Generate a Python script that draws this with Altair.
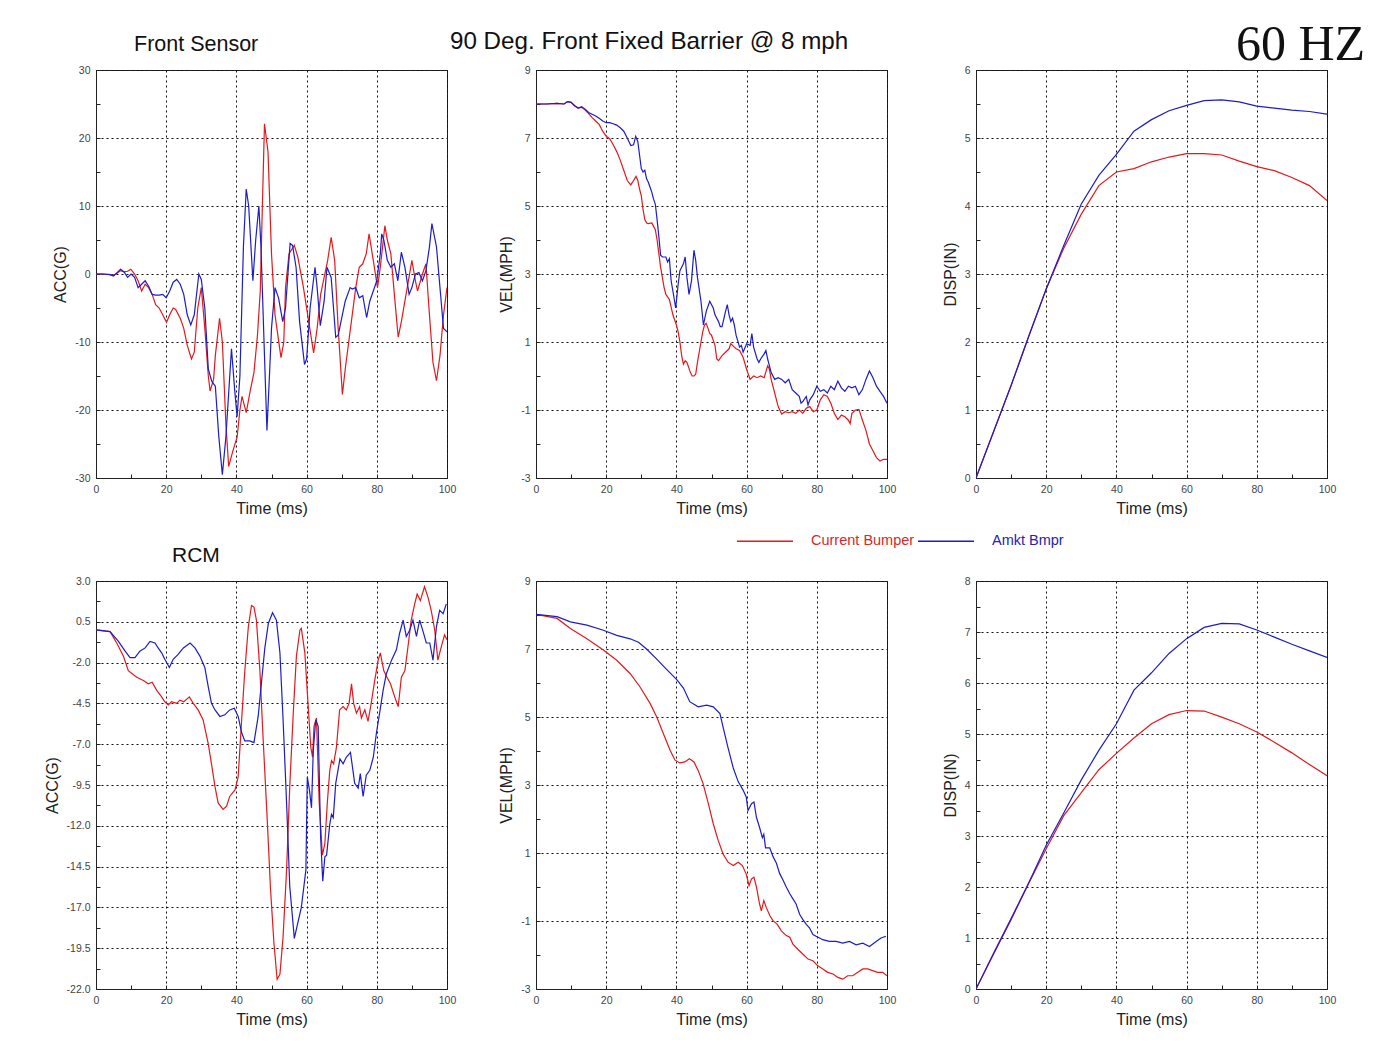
import altair as alt
import pandas as pd

FONT = "Liberation Sans"
SERIF = "Liberation Serif"
SERIES = ["Current Bumper", "Amkt Bmpr"]
LINE_COLORS = ["#e3191c", "#1d1dc8"]
W, H = 351, 408

X_LABELS = [0, 20, 40, 60, 80, 100]
X_MINOR = [0, 10, 20, 30, 40, 50, 60, 70, 80, 90, 100]

# ---------------- Front Sensor: ACC(G) ----------------
FS_ACC_T_RED = [0, 2, 4, 5, 6, 7, 8, 9, 9.9, 11, 12, 13, 14, 15, 16, 17, 18, 19, 20.1, 21, 22, 22.7, 24, 25, 26,
                27.2, 28, 29, 30, 31, 32, 32.5, 33.5, 34, 35.2, 36, 37, 37.8, 39, 40.2, 41, 41.6, 42.8, 44, 45, 46,
                46.8, 47.4, 48, 49, 50, 51, 52.7, 53.5, 54, 55, 56.5, 57.5, 59.1, 60, 62, 63, 64, 66, 67, 68, 69,
                70.2, 71, 72, 73, 74, 75, 76, 77, 77.8, 79, 80.2, 81, 82.3, 83, 84, 85, 86.1, 87, 88, 89, 90, 91,
                91.6, 93, 94, 95, 96, 97, 98, 99, 100]
FS_ACC_RED = [0, 0, -0.1, -0.2, 0.1, 0.5, 0.3, 0.4, 0.7, 0, -1, -2.5, -1.5, -2, -3, -4.5, -5, -6, -7.1, -6, -5, -5.2,
              -6.5, -8, -10.5, -12.5, -11.5, -5, -2, -8, -15, -17.2, -15.5, -12, -6.5, -10, -22, -28.3, -26, -24,
              -20, -18, -20.4, -17, -14.5, -9, -2.5, 10, 22.1, 18, 3, -6, -12.3, -10, -2, 3, 4.2, 2.5, -2, -5,
              -11.6, -8, -3, 2, 5.4, 2, -8, -17.7, -14, -10, -6, -2, 1, 1.5, 3, 5.9, 2, -2, 1, 7.1, 5, 3, -3,
              -9.3, -7, -4, -1, 2, -1, -2.5, 0, 1.5, -6, -13, -15.7, -12, -6, -2]
FS_ACC_T_BLUE = [0, 2, 4, 5, 6, 7, 8, 9, 10, 11, 12, 13, 14, 15, 16, 17, 18, 19, 20, 21, 22, 23, 24, 25, 26, 27,
                 28, 29.3, 30, 31, 32, 33, 34, 35, 36, 37, 38.6, 39.5, 40.2, 41, 42, 42.8, 43.5, 44.7, 45.5, 46.4,
                 47, 48, 48.7, 49.5, 50, 51, 52, 53.2, 54, 55.3, 56, 57, 58, 59.4, 60, 61, 62.4, 63, 63.9, 65,
                 65.8, 67, 68.3, 69, 70, 71, 72.4, 73, 74, 75, 76, 77.1, 78, 79, 80, 81, 81.4, 82, 83, 84, 85, 86,
                 87, 88, 89.2, 90, 91, 92, 93, 94, 95, 95.7, 97, 98, 99, 100]
FS_ACC_BLUE = [0, 0, -0.1, -0.3, 0.2, 0.7, 0.3, -0.5, 0, -0.5, -2, -1.5, -1, -1.8, -3, -3.1, -3.1, -3, -3.5, -2.5,
               -1.2, -0.8, -1.5, -3, -6, -7.5, -6, 0, -0.8, -5, -14, -15.8, -16.5, -24, -29.5, -24, -11, -17, -21,
               -15, 4, 12.5, 10, -1, 5, 10, 4, -12, -23, -14, -8, -2, -3.5, -7, -5, 4.5, 4.2, 1, -7, -13.3, -12.5,
               -5, 1, -2, -7.6, -4, 1, -0.5, -9.3, -9, -6.5, -4, -2, -2.2, -2, -3.5, -3.2, -6.4, -4, -2.5, -1, 3,
               5.9, 5, 2, 1, 1.5, -1, 3.2, 1, -3, -2, 0, 0.2, -1, 0.5, 4, 7.4, 4, -2, -8, -8.5]

# ---------------- Front Sensor: VEL(MPH) ----------------
FS_VEL_T_RED = [0, 3, 6, 8, 9, 10, 11, 12, 13, 14, 15, 16, 17, 18, 19, 20, 21, 22, 23, 24, 25, 26, 27, 27.5, 28.5,
                29, 29.5, 30, 30.5, 31, 31.5, 32, 33, 33.5, 34, 34.5, 35, 35.5, 36, 36.5, 37, 38, 39, 40, 40.5, 41,
                41.5, 42, 42.5, 43, 44, 44.5, 45, 45.5, 46, 47, 47.5, 48, 48.5, 49, 49.5, 50, 51, 51.5, 52, 53, 54,
                55, 55.5, 56, 56.5, 57, 58, 59, 60, 61, 62, 63, 64, 65, 66, 66.5, 67, 68, 69, 70, 71, 72, 73, 74,
                75, 76, 77, 78, 79, 80, 81, 82, 83, 84, 85, 86, 87, 88, 89, 89.5, 90, 91, 92, 93, 94, 95, 96, 97,
                98, 99, 100]
FS_VEL_RED = [8.0, 8.0, 8.02, 8.0, 8.07, 8.05, 7.95, 7.88, 7.9, 7.82, 7.72, 7.6, 7.5, 7.4, 7.2, 7.05, 6.98, 6.8,
              6.6, 6.35, 6.05, 5.75, 5.62, 5.7, 5.87, 5.75, 5.5, 5.3, 4.9, 4.6, 4.5, 4.48, 4.5, 4.4, 4.3, 4.0, 3.6,
              3.2, 2.9, 2.6, 2.4, 2.25, 1.8, 1.5, 1.3, 1.0, 0.6, 0.35, 0.45, 0.4, 0.1, 0.0, 0.0, 0.05, 0.4, 1.0,
              1.3, 1.5, 1.55, 1.4, 1.25, 1.2, 0.9, 0.5, 0.45, 0.6, 0.7, 0.8, 0.95, 0.9, 0.85, 0.8, 0.75, 0.55, 0.2,
              -0.1, 0.0, -0.05, 0.0, -0.05, 0.3, 0.2, -0.1, -0.5, -0.9, -1.12, -1.05, -1.08, -1.05, -1.1, -1.0,
              -1.1, -0.95, -0.9, -1.05, -1.0, -0.7, -0.55, -0.6, -0.8, -1.1, -1.28, -1.15, -1.2, -1.3, -1.4, -1.1,
              -1.0, -0.98, -1.3, -1.6, -2.0, -2.2, -2.4, -2.5, -2.45, -2.45]
FS_VEL_T_BLUE = [0, 3, 6, 8, 9, 10, 11, 12, 13, 14, 15, 17, 18, 19, 20, 21, 22, 23, 24, 25, 26, 27, 27.8, 28.4, 29,
                 29.5, 30, 30.5, 31, 31.5, 32, 32.5, 33, 33.5, 34, 34.5, 35, 35.5, 36, 37, 37.5, 38, 38.5, 39, 39.8,
                 40.5, 41, 42, 42.5, 43, 43.6, 44.3, 45, 45.5, 46, 47, 47.7, 48.5, 49.5, 50.5, 51, 52, 52.5, 53, 54,
                 54.5, 55, 55.5, 56, 56.5, 57, 58, 58.5, 59, 60, 61, 61.5, 62, 63, 63.5, 64, 65, 65.5, 66, 66.5, 67,
                 68, 69, 70, 71, 72, 73, 74, 75, 75.5, 76, 77, 77.5, 78, 79, 80, 81, 82, 83, 84, 85, 86, 87, 88, 89,
                 90, 91, 92, 93, 94, 95, 96, 97, 98, 99, 100]
FS_VEL_BLUE = [8.0, 8.0, 8.02, 8.0, 8.07, 8.05, 7.95, 7.88, 7.92, 7.85, 7.75, 7.65, 7.58, 7.5, 7.45, 7.45, 7.42,
               7.38, 7.3, 7.2, 7.0, 6.78, 6.8, 7.05, 6.9, 6.5, 6.1, 6.0, 6.05, 5.8, 5.7, 5.55, 5.4, 5.2, 5.05, 4.6,
               4.1, 3.55, 3.5, 3.5, 3.35, 3.45, 2.8, 2.5, 2.0, 2.7, 3.1, 3.3, 3.5, 2.9, 2.4, 2.8, 3.7, 3.4, 2.9,
               2.2, 1.5, 1.9, 2.2, 2.0, 1.8, 1.6, 1.45, 1.45, 1.9, 2.1, 1.8, 1.6, 1.7, 1.5, 1.2, 0.85, 0.9, 0.7,
               0.95, 0.9, 1.25, 0.85, 0.5, 0.4, 0.5, 0.65, 0.75, 0.5, 0.3, 0.1, -0.1, -0.05, -0.1, -0.2, -0.1, -0.4,
               -0.5, -0.6, -0.8, -0.75, -0.6, -0.85, -0.7, -0.55, -0.3, -0.45, -0.4, -0.5, -0.3, -0.4, -0.15, -0.35,
               -0.45, -0.3, -0.35, -0.3, -0.55, -0.4, -0.1, 0.15, -0.05, -0.3, -0.45, -0.6, -0.8]

# ---------------- Front Sensor: DISP(IN) ----------------
FS_DISP_T = [0, 5, 10, 15, 20, 25, 30, 35, 40, 45, 50, 55, 60, 65, 70, 75, 80, 85, 90, 95, 100]
FS_DISP_RED = [0, 0.68, 1.36, 2.08, 2.78, 3.38, 3.88, 4.3, 4.5, 4.55, 4.65, 4.72, 4.77, 4.77, 4.75, 4.66, 4.58,
               4.52, 4.42, 4.3, 4.08]
FS_DISP_BLUE = [0, 0.68, 1.36, 2.08, 2.78, 3.42, 4.03, 4.45, 4.76, 5.1, 5.27, 5.4, 5.48, 5.55, 5.56, 5.53, 5.47,
                5.44, 5.41, 5.39, 5.35]

# ---------------- RCM: ACC(G) ----------------
RCM_ACC_T_RED = [0, 4, 5.9, 7.8, 9.2, 11.6, 13.5, 14.9, 16, 17.3, 18.7, 19.6, 20.6, 21.5, 23, 23.9, 25, 26.6, 27.7,
                 29.1, 30.5, 32, 32.9, 33.9, 34.8, 36.2, 37.2, 38.1, 39.6, 40.5, 41.5, 42.4, 43.4, 44.3, 45, 45.7,
                 46.7, 47.6, 48.8, 49.7, 50.7, 51.6, 52.4, 53.3, 54.3, 55.2, 56.2, 57.1, 58.1, 58.5, 59.5, 60.4,
                 61.2, 61.7, 62.1, 62.8, 63.6, 64.5, 65.2, 65.9, 66.6, 67.1, 67.7, 68.5, 69.4, 70.4, 71.3, 72.1,
                 72.8, 73.4, 74.2, 75.1, 75.6, 76.6, 77.5, 78.4, 79.4, 80.4, 81, 82, 82.9, 83.9, 85.1, 86.1, 87, 88,
                 88.9, 89.8, 90.8, 91.5, 92.4, 93.6, 94.6, 95.5, 96.5, 97.4, 98.4, 99.3, 100]
RCM_ACC_RED = [0, -0.1, -0.8, -1.6, -2.5, -2.9, -3.1, -3.3, -3.2, -3.7, -4.1, -4.4, -4.6, -4.4, -4.5, -4.3, -4.4,
               -4.1, -4.5, -4.9, -5.5, -7, -8.2, -9.6, -10.6, -11, -10.8, -10.2, -9.8, -9, -5.5, -2.5, 0.2, 1.5,
               1.4, 0.6, -2.5, -6.6, -11.7, -15.8, -19.2, -21.4, -21.1, -18.8, -14.7, -9.6, -5.1, -1.6, 0.0, 0.1,
               -1.4, -4.5, -7.2, -7.8, -5.9, -5.4, -10.6, -13.8, -13.1, -10.6, -8.6, -8.0, -8.2, -7.2, -4.9, -4.7,
               -4.9, -4.5, -3.3, -4.5, -5.1, -4.7, -5.4, -4.9, -5.6, -4.5, -3.1, -1.85, -1.4, -2.5, -2.9, -3.3,
               -4.1, -4.7, -2.9, -2.5, -1.0, 0.6, 1.6, 2.2, 1.8, 2.65, 2.0, 1.2, 0.0, -1.85, -1.0, -0.3, -0.6]
RCM_ACC_T_BLUE = [0, 4, 6.4, 8.3, 9.7, 11.1, 12.5, 14, 15.4, 16.8, 17.7, 18.7, 19.6, 20.9, 22, 23.4, 24.9, 26.8,
                  28.2, 29.6, 31, 32, 32.9, 33.9, 35.3, 36.7, 38.1, 39.4, 40.5, 41.5, 42.4, 43.8, 45, 46.2, 47.2,
                  48.1, 49.1, 50.3, 51.4, 52.4, 53.3, 54.3, 55.2, 56.5, 58.5, 59.8, 60.2, 60.8, 61.4, 61.9, 62.6,
                  63.3, 64, 64.6, 65.2, 65.7, 66.6, 67.1, 67.6, 68.3, 69.5, 70.4, 71.3, 72.5, 73.7, 74.7, 75.3,
                  76.1, 77, 78, 79, 79.9, 80.8, 81.8, 82.7, 84.2, 85.6, 86.5, 87.5, 88.4, 89.4, 90.3, 91.3, 92.2,
                  93.2, 94.1, 95.1, 96, 97, 97.9, 98.9, 99.8]
RCM_ACC_BLUE = [0, -0.1, -0.7, -1.3, -1.7, -1.7, -1.3, -1.1, -0.7, -0.8, -1.1, -1.4, -1.8, -2.3, -1.8, -1.5, -1.1,
                -0.8, -1.1, -1.6, -2.3, -3.5, -4.5, -4.9, -5.3, -5.2, -4.9, -4.8, -5.3, -6.3, -6.8, -6.8, -6.9,
                -5.3, -3.1, -1.1, 0.4, 1.06, 0.6, -1.4, -5.5, -10.6, -15.7, -18.9, -17, -14.7, -9.0, -9.8, -10.9,
                -7.4, -5.5, -5.9, -12.7, -15.4, -13.9, -13.8, -11.9, -11.3, -11.5, -9.4, -7.9, -8.2, -7.8, -7.5,
                -9.4, -9.7, -8.8, -10.2, -8.9, -8.6, -7.8, -6.3, -5.1, -3.7, -2.7, -1.85, -1.2, -0.2, 0.6, -0.4,
                0.0, 0.6, -0.4, 0.6, -0.1, -0.8, -0.8, -1.85, 0.2, 1.2, 1.0, 1.6]

# ---------------- RCM: VEL(MPH) ----------------
RCM_VEL_T_RED = [0, 6, 9.8, 14.5, 19.2, 23, 26.8, 29.6, 32.5, 34.4, 36.3, 38.2, 39.6, 41, 42.4, 43.7, 45, 46.2,
                 47.6, 49.1, 50.5, 51.9, 53.3, 54.7, 56.2, 57.6, 58.8, 59.9, 60.7, 61.4, 62.1, 62.8, 63.7, 64.2,
                 64.9, 65.6, 66.6, 67.5, 68.7, 69.9, 71.3, 72.3, 73.2, 74.6, 76, 77.5, 78.9, 80.3, 81.7, 83.1, 84.6,
                 86, 87.4, 88.8, 90.2, 91.7, 93.1, 94.5, 95.9, 97.3, 98.8, 100]
RCM_VEL_RED = [8.02, 7.9, 7.6, 7.3, 6.97, 6.67, 6.28, 5.89, 5.4, 5.0, 4.51, 4.02, 3.73, 3.65, 3.68, 3.77, 3.68,
               3.43, 3.04, 2.45, 1.86, 1.37, 0.97, 0.73, 0.63, 0.73, 0.63, 0.38, 0.04, 0.24, 0.29, 0.0, -0.5, -0.7,
               -0.4, -0.6, -0.84, -0.99, -1.09, -1.29, -1.43, -1.48, -1.68, -1.83, -1.97, -2.12, -2.17, -2.32,
               -2.41, -2.51, -2.56, -2.66, -2.71, -2.61, -2.61, -2.51, -2.41, -2.41, -2.46, -2.51, -2.51, -2.61]
RCM_VEL_T_BLUE = [0, 6, 9.8, 14.5, 19.2, 23, 26.8, 29.2, 31.5, 34.4, 37.2, 40.1, 42, 43.8, 46.2, 48.6, 50.5, 52.4,
                  53.3, 54.7, 56.2, 57.6, 59, 59.9, 60.4, 61.4, 62.1, 62.8, 63.7, 64.5, 64.9, 65.4, 66.6, 67.5,
                  68.5, 69.4, 70.4, 71.3, 72.3, 73.2, 74.1, 75.1, 76, 77, 77.9, 78.9, 79.8, 80.8, 81.7, 83.6, 85.5,
                  87.4, 89.3, 91.2, 93.1, 95, 96.9, 98.3, 99.7]
RCM_VEL_BLUE = [8.02, 7.95, 7.8, 7.7, 7.55, 7.4, 7.3, 7.2, 7.0, 6.7, 6.4, 6.1, 5.85, 5.45, 5.3, 5.35, 5.3, 5.1,
                4.7, 4.1, 3.5, 3.1, 2.85, 2.65, 2.25, 2.45, 2.5, 2.05, 1.75, 1.45, 1.55, 1.15, 1.15, 0.9, 0.7, 0.4,
                0.2, 0.0, -0.2, -0.35, -0.5, -0.8, -0.95, -1.1, -1.2, -1.4, -1.45, -1.5, -1.55, -1.6, -1.6, -1.65,
                -1.6, -1.7, -1.65, -1.75, -1.6, -1.5, -1.45]

# ---------------- RCM: DISP(IN) ----------------
RCM_DISP_T = [0, 5, 10, 15, 20, 25, 30, 35, 40, 45, 50, 55, 60, 65, 70, 75, 80, 85, 90, 95, 100]
RCM_DISP_RED = [0, 0.68, 1.36, 2.07, 2.75, 3.4, 3.85, 4.3, 4.62, 4.92, 5.2, 5.38, 5.46, 5.45, 5.33, 5.2, 5.04,
                4.84, 4.63, 4.4, 4.18]
RCM_DISP_BLUE = [0, 0.7, 1.38, 2.08, 2.82, 3.45, 4.1, 4.68, 5.2, 5.86, 6.2, 6.58, 6.87, 7.09, 7.17, 7.16, 7.04,
                 6.9, 6.76, 6.63, 6.5]

# ---------------- axis tick values ----------------
FS_ACC_LABELS = [-30, -20, -10, 0, 10, 20, 30]
FS_ACC_MINOR = [-30, -25, -20, -15, -10, -5, 0, 5, 10, 15, 20, 25, 30]
VEL_LABELS = [-3, -1, 1, 3, 5, 7, 9]
VEL_MINOR = [-3, -2, -1, 0, 1, 2, 3, 4, 5, 6, 7, 8, 9]
FS_DISP_LABELS = [0, 1, 2, 3, 4, 5, 6]
FS_DISP_MINOR = [0, 0.5, 1, 1.5, 2, 2.5, 3, 3.5, 4, 4.5, 5, 5.5, 6]
RCM_ACC_LABELS = [-22.0, -19.5, -17.0, -14.5, -12.0, -9.5, -7.0, -4.5, -2.0, 0.5, 3.0]
RCM_ACC_MINOR = [-22.0, -20.75, -19.5, -18.25, -17.0, -15.75, -14.5, -13.25, -12.0, -10.75, -9.5, -8.25, -7.0,
                 -5.75, -4.5, -3.25, -2.0, -0.75, 0.5, 1.75, 3.0]
RCM_DISP_LABELS = [0, 1, 2, 3, 4, 5, 6, 7, 8]
RCM_DISP_MINOR = [0, 0.5, 1, 1.5, 2, 2.5, 3, 3.5, 4, 4.5, 5, 5.5, 6, 6.5, 7, 7.5, 8]


def frame(t_red, v_red, t_blue, v_blue):
    rows = [{"t": t, "v": v, "s": SERIES[0]} for t, v in zip(t_red, v_red)]
    rows += [{"t": t, "v": v, "s": SERIES[1]} for t, v in zip(t_blue, v_blue)]
    return pd.DataFrame(rows)


def hyphen_labels(fmt):
    return "replace(format(datum.value, '%s'), '\u2212', '-')" % fmt


MAIN_AXIS = dict(grid=True, gridColor="#111111", gridDash=[2, 3], gridWidth=1, gridOpacity=1,
                 ticks=False, domain=True, domainColor="#222222", domainWidth=1,
                 labelFont=FONT, labelFontSize=10.5, labelColor="#444444", labelPadding=6,
                 labelFlush=False, labelOverlap=False,
                 titleFont=FONT, titleFontSize=16, titleFontWeight="normal", titleColor="#222222",
                 titlePadding=6)
TICK_AXIS = dict(labels=False, domain=False, grid=False, title=None, ticks=True, tickSize=4,
                 tickColor="#222222", tickWidth=1)

LEGEND = alt.Legend(orient="none", legendX=640, legendY=442, direction="horizontal", title=None,
                    symbolType="stroke", symbolSize=3136, symbolStrokeWidth=1.3,
                    labelFont=FONT, labelFontSize=14.5, labelOffset=17, columnPadding=0,
                    labelColor=alt.ExprRef("datum.label === 'Current Bumper' ? '#d42a2a' : '#2424b0'"))


def panel(df, ydomain, ylabels, yminor, yformat, ytitle, title=None):
    xs = alt.Scale(domain=[0, 100], nice=False, zero=False)
    ys = alt.Scale(domain=ydomain, nice=False, zero=False)
    lines = alt.Chart(df).mark_line(strokeWidth=1.2, clip=True).encode(
        x=alt.X("t:Q", scale=xs, axis=alt.Axis(values=X_LABELS, title="Time (ms)",
                                               labelExpr=hyphen_labels("d"), **MAIN_AXIS)),
        y=alt.Y("v:Q", scale=ys, axis=alt.Axis(values=ylabels, title=ytitle,
                                               labelExpr=hyphen_labels(yformat), **MAIN_AXIS)),
        color=alt.Color("s:N", scale=alt.Scale(domain=SERIES, range=LINE_COLORS), legend=LEGEND),
    )
    ticks = alt.Chart(df).mark_point(opacity=0, size=1).encode(
        x=alt.X("t:Q", scale=xs, axis=alt.Axis(orient="top", offset=-H, values=X_MINOR, **TICK_AXIS)),
        y=alt.Y("v:Q", scale=ys, axis=alt.Axis(orient="right", offset=-W, values=yminor, **TICK_AXIS)),
    )
    ch = alt.layer(lines, ticks).resolve_axis(x="independent", y="independent").properties(width=W, height=H)
    if title is not None:
        ch = ch.properties(title=title)
    return ch


def ttl(text, dx, dy, size, font=FONT):
    return alt.TitleParams(text=text, anchor="start", frame="group", dx=dx, dy=dy, fontSize=size, font=font,
                           fontWeight="normal", color="#111111", baseline="alphabetic", offset=13)


p1 = panel(frame(FS_ACC_T_RED, FS_ACC_RED, FS_ACC_T_BLUE, FS_ACC_BLUE), [-30, 30], FS_ACC_LABELS,
           FS_ACC_MINOR, "d", "ACC(G)", ttl("Front Sensor", 38, 20, 21.5))
p2 = panel(frame(FS_VEL_T_RED, FS_VEL_RED, FS_VEL_T_BLUE, FS_VEL_BLUE), [-3, 9], VEL_LABELS,
           VEL_MINOR, "d", "VEL(MPH)", ttl("90 Deg. Front Fixed Barrier @ 8 mph", -86, 21, 24.2))
p3 = panel(frame(FS_DISP_T, FS_DISP_RED, FS_DISP_T, FS_DISP_BLUE), [0, 6], FS_DISP_LABELS,
           FS_DISP_MINOR, "d", "DISP(IN)", ttl("60 HZ", 260, 58, 50, SERIF))
p4 = panel(frame(RCM_ACC_T_RED, RCM_ACC_RED, RCM_ACC_T_BLUE, RCM_ACC_BLUE), [-22, 3], RCM_ACC_LABELS,
           RCM_ACC_MINOR, ".1f", "ACC(G)", ttl("RCM", 76, 20, 21))
p5 = panel(frame(RCM_VEL_T_RED, RCM_VEL_RED, RCM_VEL_T_BLUE, RCM_VEL_BLUE), [-3, 9], VEL_LABELS,
           VEL_MINOR, "d", "VEL(MPH)")
p6 = panel(frame(RCM_DISP_T, RCM_DISP_RED, RCM_DISP_T, RCM_DISP_BLUE), [0, 8], RCM_DISP_LABELS,
           RCM_DISP_MINOR, "d", "DISP(IN)")

chart = alt.concat(p1, p2, p3, p4, p5, p6, columns=3, spacing={"row": 103, "column": 89},
                   bounds="flush").configure(
    font=FONT, background="white", padding={"left": 35, "top": 11, "right": 0, "bottom": 0}
).configure_view(stroke="#222222", strokeWidth=1)

chart.save("out.html", embed_options={"renderer": "svg", "actions": False})
